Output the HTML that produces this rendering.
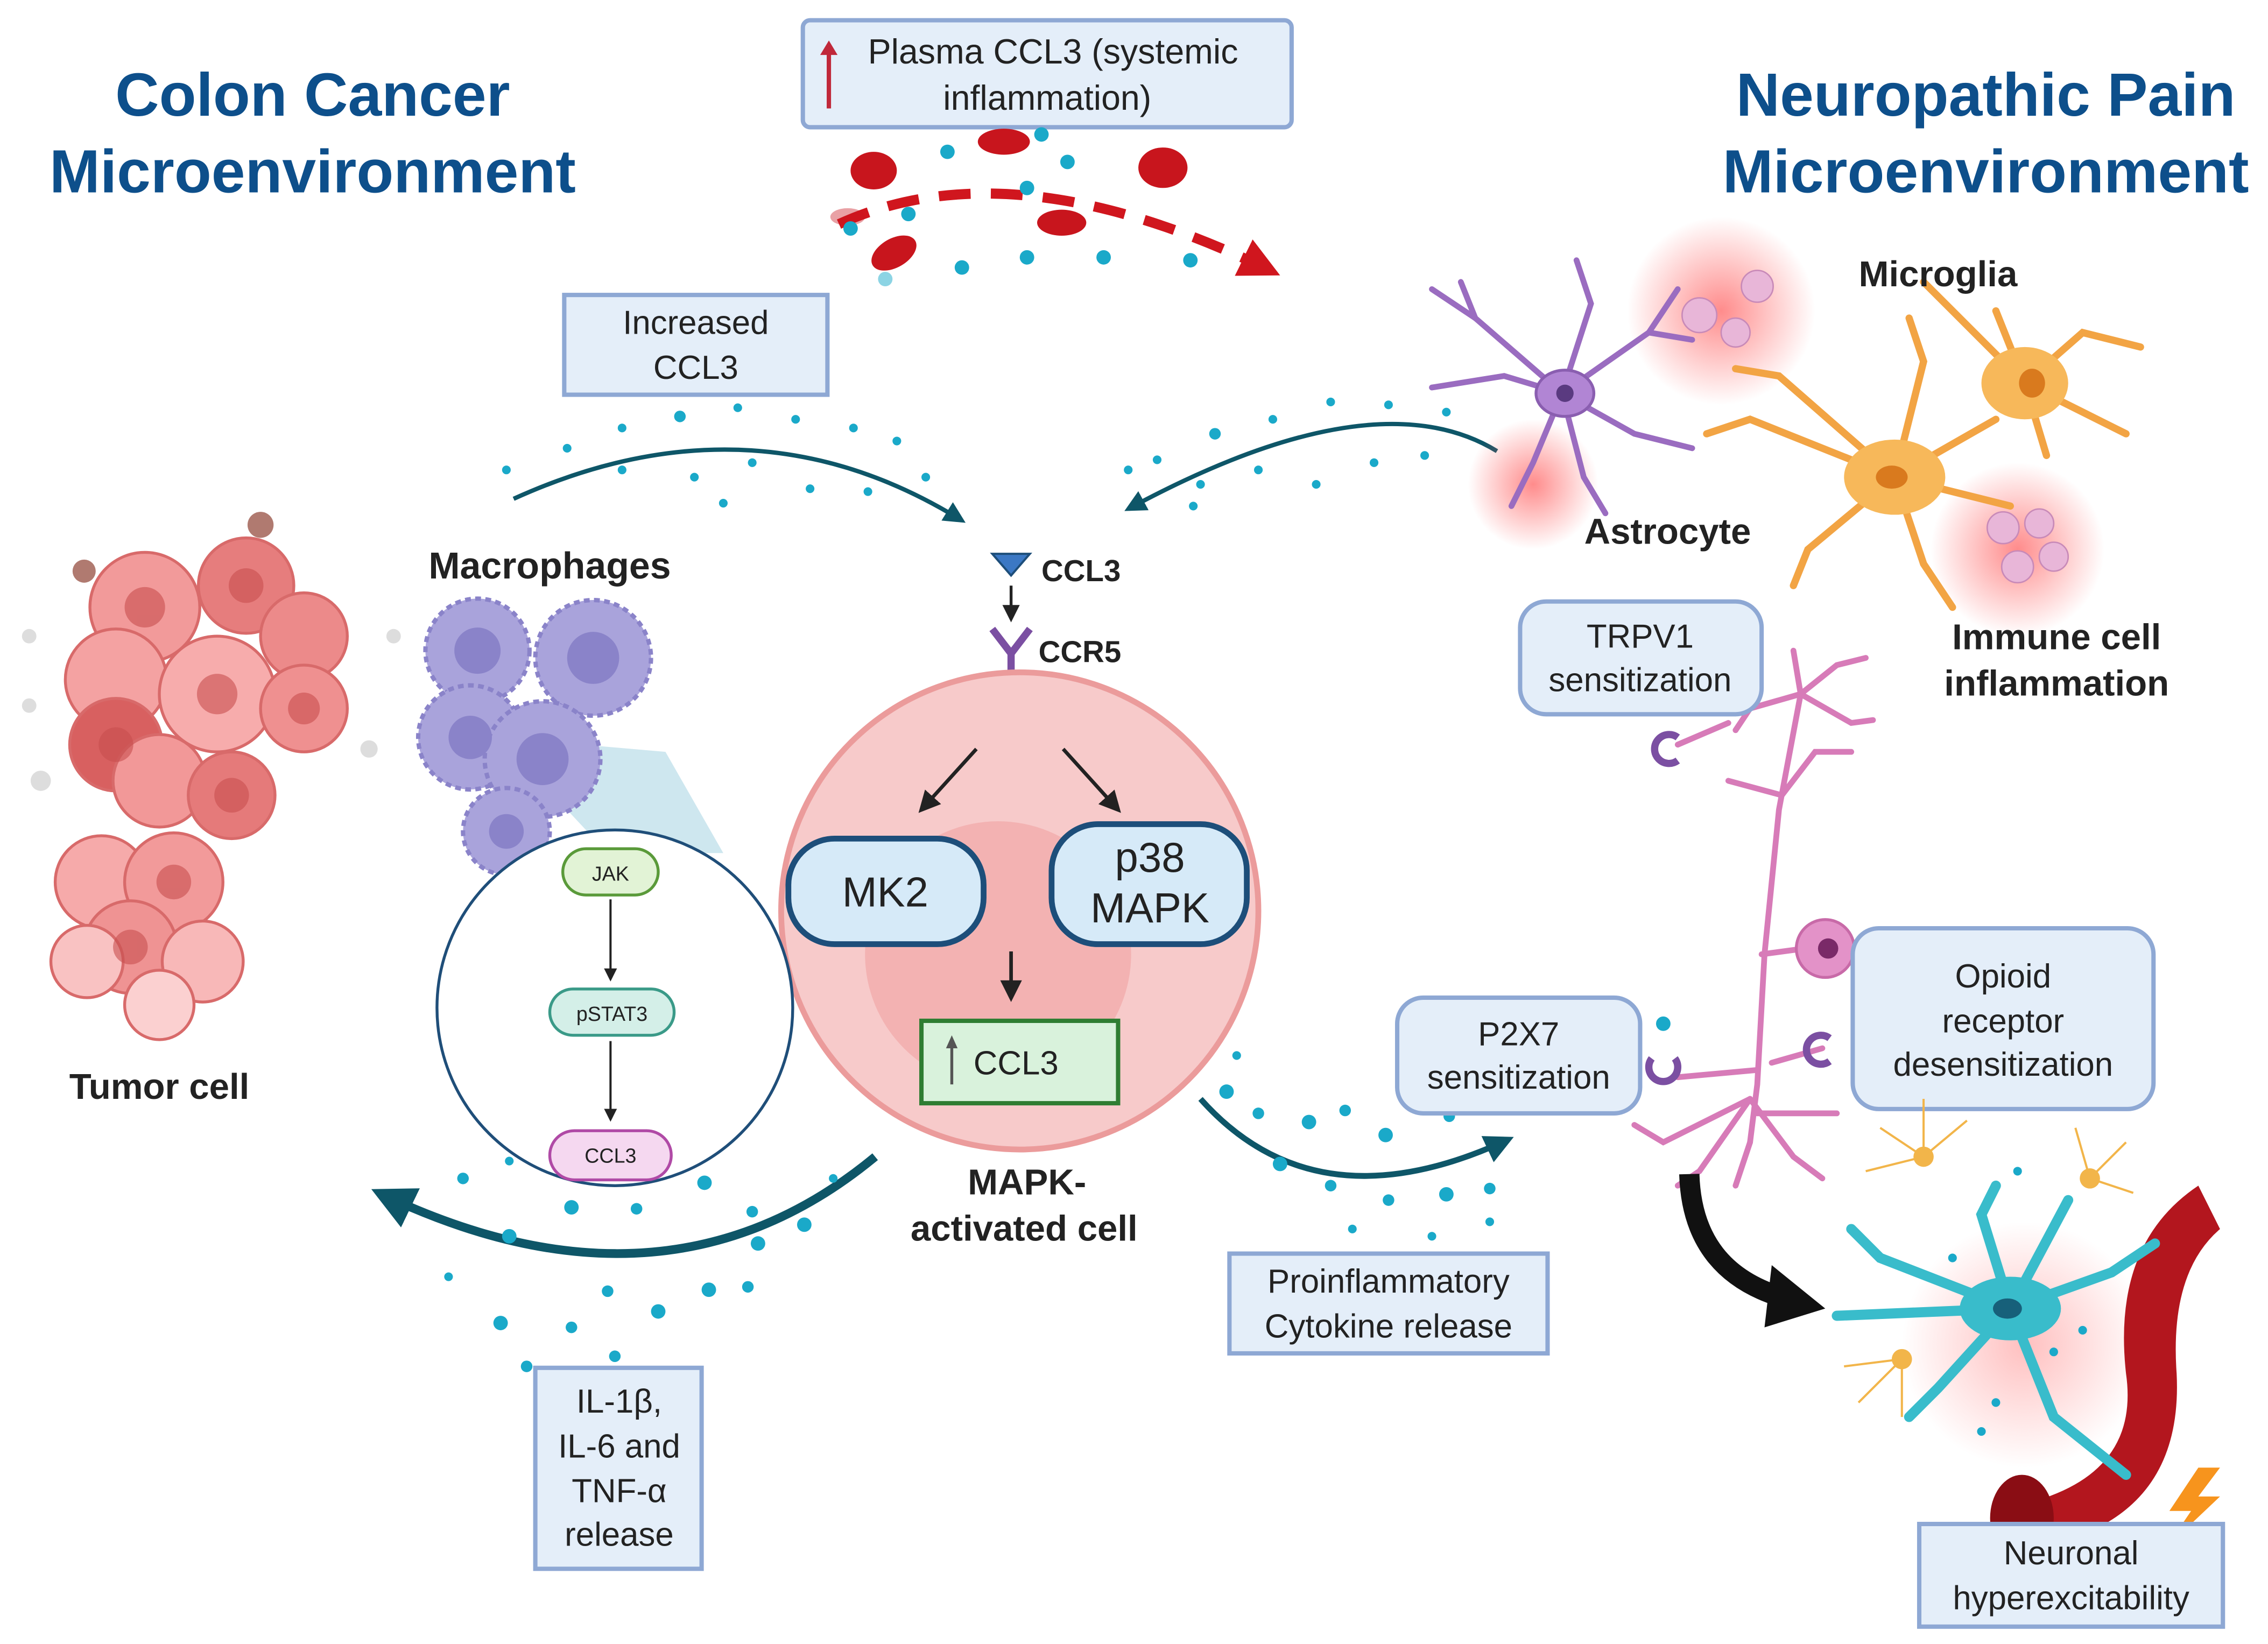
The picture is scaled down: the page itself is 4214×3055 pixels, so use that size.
<!DOCTYPE html>
<html><head><meta charset="utf-8"><style>
html,body{margin:0;padding:0;background:#fff;}
svg{display:block;}
text{font-family:"Liberation Sans",sans-serif;}
</style></head><body>
<svg width="4214" height="3055" viewBox="0 0 1568 1137" xmlns="http://www.w3.org/2000/svg">
<defs>
<marker id="ah" viewBox="0 0 10 10" refX="8" refY="5" markerWidth="5" markerHeight="5" orient="auto"><path d="M0,0L10,5L0,10z" fill="#0e5668"/></marker>
<marker id="ak" viewBox="0 0 10 10" refX="8" refY="5" markerWidth="6" markerHeight="6" orient="auto"><path d="M0,0L10,5L0,10z" fill="#222"/></marker>
<marker id="ar" viewBox="0 0 10 10" refX="8" refY="5" markerWidth="4" markerHeight="4" orient="auto"><path d="M0,0L10,5L0,10z" fill="#d0161e"/></marker>
<radialGradient id="glow"><stop offset="0" stop-color="#ff5a5a" stop-opacity=".7"/><stop offset="1" stop-color="#ff5a5a" stop-opacity="0"/></radialGradient>
<radialGradient id="glow2"><stop offset="0" stop-color="#ff8080" stop-opacity=".5"/><stop offset="1" stop-color="#ff8080" stop-opacity="0"/></radialGradient>
</defs>
<rect width="1568" height="1137" fill="#fff"/>

<!-- Titles -->
<g font-weight="bold" fill="#0d4f8b" font-size="42" text-anchor="middle">
<text x="216" y="80">Colon Cancer</text><text x="216" y="133">Microenvironment</text>
<text x="1373" y="80">Neuropathic Pain</text><text x="1373" y="133">Microenvironment</text>
</g>

<!-- Plasma box -->
<rect x="555" y="14" width="338" height="74" rx="5" fill="#e4eef9" stroke="#8ea8d4" stroke-width="3"/>
<line x1="573" y1="75" x2="573" y2="35" stroke="#c0283a" stroke-width="3"/><path d="M567,38 L573,28 L579,38z" fill="#c0283a"/>
<text x="728" y="44" font-size="24" text-anchor="middle" fill="#222">Plasma CCL3 (systemic</text>
<text x="724" y="76" font-size="24" text-anchor="middle" fill="#222">inflammation)</text>

<!-- blood stream -->
<path d="M580,155 Q700,100 880,188" fill="none" stroke="#d0161e" stroke-width="7" stroke-dasharray="22,14" marker-end="url(#ar)"/>
<g fill="#c8151d">
<ellipse cx="604" cy="118" rx="16" ry="13"/><ellipse cx="694" cy="98" rx="18" ry="9"/><ellipse cx="804" cy="116" rx="17" ry="14"/>
<ellipse cx="734" cy="154" rx="17" ry="9"/><ellipse cx="618" cy="175" rx="17" ry="10" transform="rotate(-30 618 175)"/><ellipse cx="586" cy="150" rx="12" ry="6" opacity=".4"/>
</g>
<g fill="#1aa9c9"><circle cx="588" cy="158" r="5"/><circle cx="628" cy="148" r="5"/><circle cx="665" cy="185" r="5"/><circle cx="710" cy="178" r="5"/><circle cx="738" cy="112" r="5"/><circle cx="763" cy="178" r="5"/><circle cx="823" cy="180" r="5"/><circle cx="655" cy="105" r="5"/><circle cx="720" cy="93" r="5"/><circle cx="612" cy="193" r="5" opacity=".5"/><circle cx="710" cy="130" r="5"/></g>

<!-- Increased CCL3 box -->
<rect x="390" y="204" width="182" height="69" fill="#e4eef9" stroke="#8ea8d4" stroke-width="3"/>
<text x="481" y="231" font-size="23" text-anchor="middle" fill="#222">Increased</text>
<text x="481" y="262" font-size="23" text-anchor="middle" fill="#222">CCL3</text>

<!-- top arrows -->
<path d="M355,345 Q520,270 665,360" fill="none" stroke="#0e5668" stroke-width="3" marker-end="url(#ah)"/>
<path d="M1035,312 Q950,260 780,352" fill="none" stroke="#0e5668" stroke-width="3" marker-end="url(#ah)"/>
<g fill="#1aa9c9">
<circle cx="350" cy="325" r="3"/><circle cx="392" cy="310" r="3"/><circle cx="430" cy="296" r="3"/><circle cx="470" cy="288" r="4"/><circle cx="510" cy="282" r="3"/><circle cx="550" cy="290" r="3"/><circle cx="590" cy="296" r="3"/><circle cx="620" cy="305" r="3"/><circle cx="430" cy="325" r="3"/><circle cx="480" cy="330" r="3"/><circle cx="520" cy="320" r="3"/><circle cx="560" cy="338" r="3"/><circle cx="600" cy="340" r="3"/><circle cx="640" cy="330" r="3"/><circle cx="500" cy="348" r="3"/>
<circle cx="1000" cy="285" r="3"/><circle cx="960" cy="280" r="3"/><circle cx="920" cy="278" r="3"/><circle cx="880" cy="290" r="3"/><circle cx="840" cy="300" r="4"/><circle cx="800" cy="318" r="3"/><circle cx="780" cy="325" r="3"/><circle cx="830" cy="335" r="3"/><circle cx="870" cy="325" r="3"/><circle cx="910" cy="335" r="3"/><circle cx="950" cy="320" r="3"/><circle cx="985" cy="315" r="3"/><circle cx="825" cy="350" r="3"/>
</g>

<!-- CCL3 / CCR5 -->
<path d="M686,383 L712,383 L699,398z" fill="#3b78c4" stroke="#1d4e7a" stroke-width="1.5"/>
<text x="720" y="402" font-size="21" font-weight="bold" fill="#222">CCL3</text>
<line x1="699" y1="405" x2="699" y2="428" stroke="#222" stroke-width="2" marker-end="url(#ak)"/>
<path d="M686,435 L699,452 L712,435" fill="none" stroke="#7b4fa2" stroke-width="5"/><line x1="699" y1="450" x2="699" y2="480" stroke="#7b4fa2" stroke-width="5"/>
<text x="718" y="458" font-size="21" font-weight="bold" fill="#222">CCR5</text>
<line x1="699" y1="484" x2="699" y2="508" stroke="#222" stroke-width="2" marker-end="url(#ak)"/>

<!-- MAPK cell -->
<circle cx="705" cy="630" r="165" fill="#f7caca" stroke="#eb9b9b" stroke-width="4"/>
<circle cx="690" cy="660" r="92" fill="#f3b2b2"/>
<line x1="675" y1="518" x2="637" y2="560" stroke="#222" stroke-width="2.5" marker-end="url(#ak)"/>
<line x1="735" y1="518" x2="773" y2="560" stroke="#222" stroke-width="2.5" marker-end="url(#ak)"/>
<rect x="545" y="580" width="135" height="73" rx="32" fill="#d6eaf8" stroke="#1d4e7a" stroke-width="4"/>
<text x="612" y="627" font-size="29" text-anchor="middle" fill="#222">MK2</text>
<rect x="727" y="570" width="135" height="83" rx="32" fill="#d6eaf8" stroke="#1d4e7a" stroke-width="4"/>
<text x="795" y="603" font-size="29" text-anchor="middle" fill="#222">p38</text>
<text x="795" y="638" font-size="29" text-anchor="middle" fill="#222">MAPK</text>
<line x1="699" y1="658" x2="699" y2="690" stroke="#222" stroke-width="2.5" marker-end="url(#ak)"/>
<rect x="637" y="706" width="136" height="57" fill="#d9f2dc" stroke="#2f7d32" stroke-width="3"/>
<line x1="658" y1="750" x2="658" y2="722" stroke="#555" stroke-width="2"/><path d="M654,725L658,716L662,725z" fill="#555"/>
<text x="673" y="743" font-size="23" fill="#222">CCL3</text>
<text x="710" y="826" font-size="25" font-weight="bold" text-anchor="middle" fill="#222">MAPK-</text>
<text x="708" y="858" font-size="25" font-weight="bold" text-anchor="middle" fill="#222">activated cell</text>

<!-- Tumor cells -->
<g stroke="#d86a6a" stroke-width="2">
<circle cx="100" cy="420" r="38" fill="#f29a9a"/><circle cx="170" cy="405" r="33" fill="#e67d7d"/><circle cx="210" cy="440" r="30" fill="#ec8a8a"/>
<circle cx="80" cy="470" r="35" fill="#f4a2a2"/><circle cx="150" cy="480" r="40" fill="#f7acac"/><circle cx="210" cy="490" r="30" fill="#ef9090"/>
<circle cx="80" cy="515" r="32" fill="#d86060"/><circle cx="110" cy="540" r="32" fill="#f29898"/><circle cx="160" cy="550" r="30" fill="#e57a7a"/>
<circle cx="70" cy="610" r="32" fill="#f6aaaa"/><circle cx="120" cy="610" r="34" fill="#f29a9a"/><circle cx="90" cy="655" r="32" fill="#ef9393"/><circle cx="140" cy="665" r="28" fill="#f8b8b8"/><circle cx="60" cy="665" r="25" fill="#f9c2c2"/><circle cx="110" cy="695" r="24" fill="#fbd0d0"/>
</g>
<g fill="#c84f4f" opacity=".6"><circle cx="100" cy="420" r="14"/><circle cx="170" cy="405" r="12"/><circle cx="150" cy="480" r="14"/><circle cx="80" cy="515" r="12"/><circle cx="160" cy="550" r="12"/><circle cx="120" cy="610" r="12"/><circle cx="90" cy="655" r="12"/><circle cx="210" cy="490" r="11"/></g>
<g fill="#b07a70"><circle cx="58" cy="395" r="8"/><circle cx="180" cy="363" r="9"/><circle cx="28" cy="540" r="7" fill="#ddd"/><circle cx="20" cy="488" r="5" fill="#ddd"/><circle cx="255" cy="518" r="6" fill="#ddd"/><circle cx="272" cy="440" r="5" fill="#ddd"/><circle cx="20" cy="440" r="5" fill="#ddd"/></g>
<text x="110" y="760" font-size="25" font-weight="bold" text-anchor="middle" fill="#222">Tumor cell</text>

<!-- Macrophages -->
<text x="380" y="400" font-size="26" font-weight="bold" text-anchor="middle" fill="#222">Macrophages</text>
<polygon points="345,510 460,520 500,590 420,590" fill="#b9dde8" opacity=".7"/>
<g fill="#a9a3db" stroke="#8a83c9" stroke-width="3" stroke-dasharray="4,3">
<circle cx="330" cy="450" r="36"/><circle cx="410" cy="455" r="40"/><circle cx="325" cy="510" r="36"/><circle cx="375" cy="525" r="40"/><circle cx="350" cy="575" r="30"/>
</g>
<g fill="#8a83c9"><circle cx="330" cy="450" r="16"/><circle cx="410" cy="455" r="18"/><circle cx="325" cy="510" r="15"/><circle cx="375" cy="525" r="18"/><circle cx="350" cy="575" r="12"/></g>

<!-- inset circle -->
<circle cx="425" cy="697" r="123" fill="#fff" stroke="#1f4e79" stroke-width="2"/>
<rect x="389" y="587" width="66" height="32" rx="16" fill="#e2f3d6" stroke="#5a9a3a" stroke-width="2"/>
<text x="422" y="609" font-size="14" text-anchor="middle" fill="#222">JAK</text>
<line x1="422" y1="622" x2="422" y2="677" stroke="#222" stroke-width="1.5" marker-end="url(#ak)"/>
<rect x="380" y="684" width="86" height="32" rx="16" fill="#d4efe8" stroke="#3a9a88" stroke-width="2"/>
<text x="423" y="706" font-size="14" text-anchor="middle" fill="#222">pSTAT3</text>
<line x1="422" y1="720" x2="422" y2="774" stroke="#222" stroke-width="1.5" marker-end="url(#ak)"/>
<rect x="380" y="782" width="84" height="34" rx="17" fill="#f5d8f0" stroke="#b04aa6" stroke-width="2"/>
<text x="422" y="804" font-size="14" text-anchor="middle" fill="#222">CCL3</text>

<!-- bottom-left arrow -->
<path d="M605,800 Q460,920 262,825" fill="none" stroke="#0e5668" stroke-width="6" marker-end="url(#ah)"/>
<g fill="#1aa9c9"><circle cx="320" cy="815" r="4"/><circle cx="352" cy="803" r="3"/><circle cx="395" cy="835" r="5"/><circle cx="440" cy="836" r="4"/><circle cx="487" cy="818" r="5"/><circle cx="520" cy="838" r="4"/><circle cx="556" cy="847" r="5"/><circle cx="576" cy="815" r="3"/><circle cx="352" cy="855" r="5"/><circle cx="310" cy="883" r="3"/><circle cx="420" cy="893" r="4"/><circle cx="455" cy="907" r="5"/><circle cx="490" cy="892" r="5"/><circle cx="524" cy="860" r="5"/><circle cx="517" cy="890" r="4"/><circle cx="346" cy="915" r="5"/><circle cx="395" cy="918" r="4"/><circle cx="425" cy="938" r="4"/><circle cx="364" cy="945" r="4"/></g>

<!-- IL box -->
<rect x="370" y="946" width="115" height="139" fill="#e4eef9" stroke="#8ea8d4" stroke-width="3"/>
<g font-size="23" text-anchor="middle" fill="#222"><text x="428" y="977">IL-1β,</text><text x="428" y="1008">IL-6 and</text><text x="428" y="1039">TNF-α</text><text x="428" y="1069">release</text></g>

<!-- bottom-right arrow -->
<path d="M830,760 Q910,850 1043,788" fill="none" stroke="#0e5668" stroke-width="4" marker-end="url(#ah)"/>
<g fill="#1aa9c9"><circle cx="848" cy="755" r="5"/><circle cx="870" cy="770" r="4"/><circle cx="905" cy="776" r="5"/><circle cx="930" cy="768" r="4"/><circle cx="958" cy="785" r="5"/><circle cx="1002" cy="772" r="4"/><circle cx="885" cy="805" r="5"/><circle cx="920" cy="820" r="4"/><circle cx="960" cy="830" r="4"/><circle cx="1000" cy="826" r="5"/><circle cx="1030" cy="822" r="4"/><circle cx="935" cy="850" r="3"/><circle cx="990" cy="855" r="3"/><circle cx="1030" cy="845" r="3"/><circle cx="855" cy="730" r="3"/></g>

<rect x="850" y="867" width="220" height="69" fill="#e4eef9" stroke="#8ea8d4" stroke-width="3"/>
<text x="960" y="894" font-size="23" text-anchor="middle" fill="#222">Proinflammatory</text>
<text x="960" y="925" font-size="23" text-anchor="middle" fill="#222">Cytokine release</text>

<!-- glows -->
<circle cx="1190" cy="215" r="65" fill="url(#glow)"/>
<circle cx="1060" cy="335" r="45" fill="url(#glow)"/>
<circle cx="1395" cy="380" r="60" fill="url(#glow)"/>
<g fill="#e8b6d8" stroke="#c88ab8"><circle cx="1175" cy="218" r="12"/><circle cx="1200" cy="230" r="10"/><circle cx="1215" cy="198" r="11"/><circle cx="1385" cy="365" r="11"/><circle cx="1410" cy="362" r="10"/><circle cx="1395" cy="392" r="11"/><circle cx="1420" cy="385" r="10"/></g>

<!-- Astrocyte (purple) -->
<g stroke="#9a6cc0" stroke-width="4" fill="none" stroke-linecap="round">
<path d="M1080,272 L1020,220 L990,200"/><path d="M1080,272 L1040,260 L990,268"/><path d="M1080,272 L1100,210 L1090,180"/><path d="M1080,272 L1140,230 L1160,200"/><path d="M1080,272 L1130,300 L1170,310"/><path d="M1080,272 L1060,320 L1045,350"/><path d="M1080,272 L1095,330 L1110,355"/><path d="M1020,220 L1010,195"/><path d="M1140,230 L1170,235"/>
</g>
<ellipse cx="1082" cy="272" rx="20" ry="16" fill="#b185d4" stroke="#8a5eb0" stroke-width="2"/><circle cx="1082" cy="272" r="6" fill="#5a3a80"/>
<text x="1153" y="376" font-size="25" font-weight="bold" text-anchor="middle" fill="#222">Astrocyte</text>

<!-- Microglia (orange) -->
<g stroke="#f2a444" stroke-width="5" fill="none" stroke-linecap="round">
<path d="M1310,330 L1210,290 L1180,300"/><path d="M1310,330 L1230,260 L1200,255"/><path d="M1310,330 L1330,250 L1320,220"/><path d="M1310,330 L1380,290"/><path d="M1310,330 L1250,380 L1240,405"/><path d="M1310,330 L1330,390 L1350,420"/><path d="M1310,330 L1390,350"/>
<path d="M1400,265 L1350,215 L1330,195"/><path d="M1400,265 L1440,230 L1480,240"/><path d="M1400,265 L1450,290 L1470,300"/><path d="M1400,265 L1380,215"/><path d="M1400,265 L1415,315"/>
</g>
<ellipse cx="1310" cy="330" rx="35" ry="26" fill="#f7b85a"/><ellipse cx="1308" cy="330" rx="11" ry="8" fill="#d97a1e"/>
<ellipse cx="1400" cy="265" rx="30" ry="25" fill="#f7b85a"/><ellipse cx="1405" cy="265" rx="9" ry="10" fill="#d97a1e"/>
<text x="1340" y="198" font-size="25" font-weight="bold" text-anchor="middle" fill="#222">Microglia</text>
<text x="1422" y="449" font-size="25" font-weight="bold" text-anchor="middle" fill="#222">Immune cell</text>
<text x="1422" y="481" font-size="25" font-weight="bold" text-anchor="middle" fill="#222">inflammation</text>

<!-- Neuron (pink) -->
<g stroke="#d77bb8" stroke-width="4" fill="none" stroke-linecap="round">
<path d="M1245,480 L1230,560 L1220,660 L1215,750 L1210,790"/>
<path d="M1245,480 L1270,460 L1290,455"/><path d="M1245,480 L1280,500 L1295,498"/><path d="M1245,480 L1240,450"/><path d="M1245,480 L1210,490 L1200,505"/><path d="M1232,550 L1255,520 L1280,520"/><path d="M1232,550 L1195,540"/>
<path d="M1210,760 L1150,790 L1130,778"/><path d="M1210,760 L1175,810 L1160,820"/><path d="M1210,760 L1240,800 L1260,815"/><path d="M1210,790 L1200,820"/><path d="M1215,770 L1270,770"/>
<path d="M1218,660 L1255,655"/>
<path d="M1195,500 L1160,515"/><path d="M1215,740 L1160,745"/><path d="M1225,735 L1260,725"/>
</g>
<circle cx="1262" cy="656" r="20" fill="#e392c8" stroke="#c86aa8" stroke-width="2"/><circle cx="1264" cy="656" r="7" fill="#7a2a68"/>
<path d="M1160,510 a10,10 0 1 0 0,16" fill="none" stroke="#7b4fa2" stroke-width="5"/>
<path d="M1162,712 a10,10 0 1 1 0,16" fill="none" stroke="#7b4fa2" stroke-width="5" transform="rotate(90 1150 720)"/><circle cx="1150" cy="708" r="5" fill="#1aa9c9"/>
<path d="M1265,718 a10,10 0 1 1 0,16" fill="none" stroke="#7b4fa2" stroke-width="5" transform="rotate(180 1265 726)"/>

<rect x="1051" y="416" width="167" height="78" rx="18" fill="#e4eef9" stroke="#8ea8d4" stroke-width="3"/>
<text x="1134" y="448" font-size="23" text-anchor="middle" fill="#222">TRPV1</text>
<text x="1134" y="478" font-size="23" text-anchor="middle" fill="#222">sensitization</text>
<rect x="966" y="690" width="168" height="80" rx="18" fill="#e4eef9" stroke="#8ea8d4" stroke-width="3"/>
<text x="1050" y="723" font-size="23" text-anchor="middle" fill="#222">P2X7</text>
<text x="1050" y="753" font-size="23" text-anchor="middle" fill="#222">sensitization</text>
<rect x="1281" y="642" width="208" height="125" rx="18" fill="#e4eef9" stroke="#8ea8d4" stroke-width="3"/>
<text x="1385" y="683" font-size="23" text-anchor="middle" fill="#222">Opioid</text>
<text x="1385" y="714" font-size="23" text-anchor="middle" fill="#222">receptor</text>
<text x="1385" y="744" font-size="23" text-anchor="middle" fill="#222">desensitization</text>

<!-- black curved arrow -->
<path d="M1168,812 Q1170,880 1235,898" fill="none" stroke="#111" stroke-width="14"/>
<path d="M1225,875 L1262,905 L1220,918z" fill="#111"/>

<!-- vessel + neuron cluster -->
<circle cx="1400" cy="930" r="85" fill="url(#glow2)"/>
<path d="M1520,820 Q1460,860 1470,950 Q1480,1020 1400,1040 L1410,1070 Q1510,1050 1505,950 Q1500,880 1535,850z" fill="#b3161e"/>
<ellipse cx="1398" cy="1050" rx="22" ry="30" fill="#8a0d14"/>
<g stroke="#f2b54a" stroke-width="1.5" fill="none"><path d="M1330,800 l-30,-20 M1330,800 l-40,10 M1330,800 l0,-40 M1330,800 l30,-25 M1445,815 l25,-25 M1445,815 l30,10 M1445,815 l-10,-35 M1315,940 l-40,5 M1315,940 l-30,30 M1315,940 l0,40"/></g>
<circle cx="1330" cy="800" r="7" fill="#f2b54a"/><circle cx="1445" cy="815" r="7" fill="#f2b54a"/><circle cx="1315" cy="940" r="7" fill="#f2b54a"/>
<g stroke="#39bccb" stroke-width="7" fill="none" stroke-linecap="round">
<path d="M1390,905 L1300,870 L1280,850"/><path d="M1390,905 L1270,910"/><path d="M1390,905 L1340,960 L1320,980"/><path d="M1390,905 L1420,980 L1470,1020"/><path d="M1390,905 L1460,880 L1490,860"/><path d="M1390,905 L1370,840 L1380,820"/><path d="M1390,905 L1430,830"/>
</g>
<ellipse cx="1390" cy="905" rx="35" ry="22" fill="#39bccb"/><ellipse cx="1388" cy="905" rx="10" ry="7" fill="#17607a"/>
<g fill="#1aa9c9"><circle cx="1350" cy="870" r="3"/><circle cx="1420" cy="935" r="3"/><circle cx="1440" cy="920" r="3"/><circle cx="1370" cy="990" r="3"/><circle cx="1380" cy="970" r="3"/><circle cx="1395" cy="810" r="3"/></g>
<path d="M1520,1015 L1500,1045 L1515,1045 L1498,1070 L1535,1035 L1520,1035 L1535,1015z" fill="#f7941d"/>
<rect x="1327" y="1054" width="210" height="71" fill="#e4eef9" stroke="#8ea8d4" stroke-width="3"/>
<text x="1432" y="1082" font-size="23" text-anchor="middle" fill="#222">Neuronal</text>
<text x="1432" y="1113" font-size="23" text-anchor="middle" fill="#222">hyperexcitability</text>
</svg>
</body></html>
